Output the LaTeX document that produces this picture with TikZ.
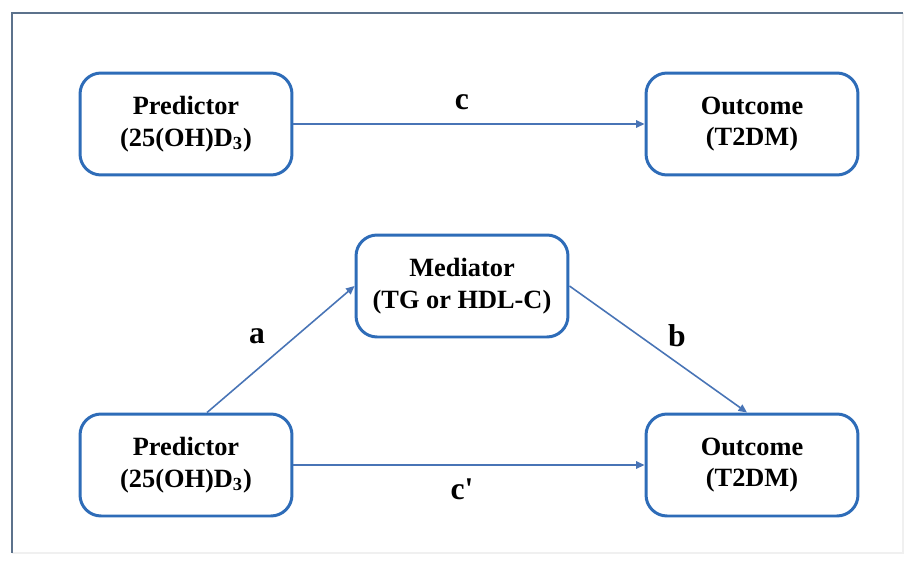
\documentclass[tikz,border=0pt]{standalone}
\usepackage{fontspec}
\setmainfont{Liberation Serif}[BoldFont={Liberation Serif Bold}]
\usetikzlibrary{arrows.meta}
\definecolor{boxblue}{RGB}{46,108,184}
\definecolor{linkblue}{RGB}{72,116,182}
\definecolor{framegray}{RGB}{92,114,140}

\begin{document}
\begin{tikzpicture}[x=0.02cm, y=-0.02cm,
  varbox/.style={draw=boxblue, line width=1.7pt, rounded corners=0.42cm, fill=white,
    minimum width=4.24cm, minimum height=2.04cm, align=center,
    font=\rmfamily\bfseries\fontsize{15}{18}\selectfont},
  link/.style={draw=linkblue, line width=0.9pt, -{Triangle[length=0.17cm, width=0.15cm]}},
  path label/.style={font=\rmfamily\bfseries\fontsize{18}{20}\selectfont}]
\useasboundingbox (0,0) rectangle (913,565);
\draw[black!6, line width=0.8pt](903,13)--(903,553)--(12,553);
\draw[framegray, line width=1.1pt](903,13)--(12,13)--(12,553);

% total effect
\node[varbox](pt) at (186,124) {Predictor\\(25(OH)D\textsubscript{3})};
\node[varbox](ot) at (752,124) {Outcome\\(T2DM)};
\draw[link](pt.east)--(ot.west);
\node[path label](c) at (462,102) {c};

% mediation
\node[varbox](med) at (462,286) {Mediator\\(TG or HDL-C)};
\node[varbox](pb) at (186,465) {Predictor\\(25(OH)D\textsubscript{3})};
\node[varbox](ob) at (752,465) {Outcome\\(T2DM)};
\draw[link]([xshift=0.42cm]pb.north)--(med.west);
\draw[link](med.east)--([xshift=-0.1cm]ob.north);
\draw[link](pb.east)--(ob.west);
\node[path label](a) at (257,336) {a};
\node[path label](b) at (677,336) {b};
\node[path label](cp) at (462,489) {c\textquotesingle};
\end{tikzpicture}
\end{document}
